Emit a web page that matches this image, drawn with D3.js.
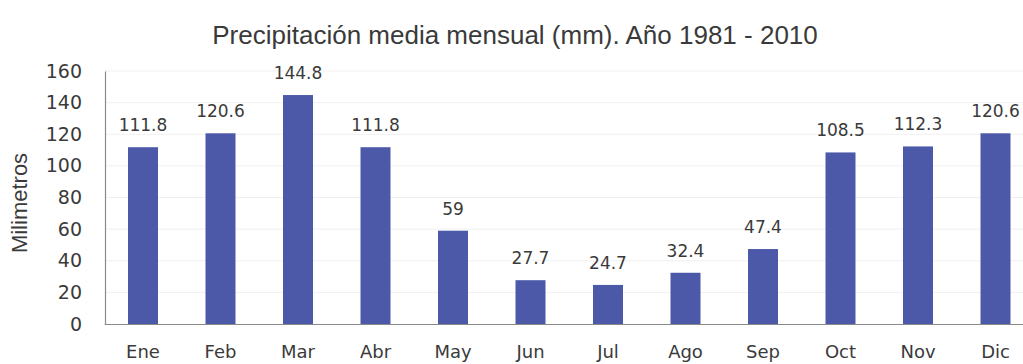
<!DOCTYPE html>
<html>
<head>
<meta charset="utf-8">
<script src="https://cdn.jsdelivr.net/npm/d3@7"></script>
<style>
  html, body { margin: 0; padding: 0; background: #ffffff; }
  svg { display: block; }
</style>
</head>
<body>
<svg id="chart" width="1023" height="364"></svg>
<script>
// Monthly mean precipitation (mm), 1981 - 2010
const months = ["Ene", "Feb", "Mar", "Abr", "May", "Jun", "Jul", "Ago", "Sep", "Oct", "Nov", "Dic"];
const precipitation = [111.8, 120.6, 144.8, 111.8, 59, 27.7, 24.7, 32.4, 47.4, 108.5, 112.3, 120.6];
const yTicks = [0, 20, 40, 60, 80, 100, 120, 140, 160];
const chartTitle = "Precipitación media mensual (mm). Año 1981 - 2010";
const yTitle = "Milimetros";

const svg = d3.select("#chart");
const barColor = "#4c58a8";
const textColor = "#3a3a3a";
const labelFont = "'DejaVu Sans', Verdana, sans-serif";

const x = d3.scaleBand()
  .domain(months)
  .range([104.25, 1034.25])
  .paddingInner(0.613)
  .paddingOuter(0.3065);

const y = d3.scaleLinear()
  .domain([0, 160])
  .range([324, 71]);

// faint horizontal gridlines
svg.append("g")
  .selectAll("line")
  .data(yTicks.filter(d => d > 0))
  .join("line")
  .attr("x1", 105)
  .attr("x2", 1023)
  .attr("y1", d => y(d))
  .attr("y2", d => y(d))
  .attr("stroke", "#f0f0f0")
  .attr("stroke-width", 1);

// bars
svg.append("g")
  .selectAll("rect")
  .data(precipitation)
  .join("rect")
  .attr("x", (d, i) => x(months[i]))
  .attr("y", d => y(d))
  .attr("width", x.bandwidth())
  .attr("height", d => y(0) - y(d))
  .attr("fill", barColor);

// value labels above bars
svg.append("g")
  .selectAll("text")
  .data(precipitation)
  .join("text")
  .attr("x", (d, i) => x(months[i]) + x.bandwidth() / 2)
  .attr("y", d => y(d) - 16)
  .attr("text-anchor", "middle")
  .attr("font-family", labelFont)
  .attr("font-size", 17)
  .attr("fill", textColor)
  .text(d => String(d));

// y axis
const yAxis = svg.append("g")
  .attr("transform", "translate(105,0)")
  .call(d3.axisLeft(y).tickValues(yTicks).tickSize(0).tickPadding(23).tickFormat(d3.format("d")));
yAxis.select(".domain").attr("stroke", "#8a8a8a").attr("stroke-width", 1.2);
yAxis.selectAll("text")
  .attr("font-family", labelFont)
  .attr("font-size", 19)
  .attr("fill", textColor);

// x axis
const xAxis = svg.append("g")
  .attr("transform", `translate(0,${y(0)})`)
  .call(d3.axisBottom(x).tickSize(0).tickPadding(21));
xAxis.select(".domain").attr("stroke", "#8a8a8a").attr("stroke-width", 1.2);
xAxis.selectAll("text")
  .attr("font-family", labelFont)
  .attr("font-size", 18)
  .attr("fill", textColor);

// y axis title
svg.append("text")
  .attr("transform", "translate(27,203) rotate(-90)")
  .attr("text-anchor", "middle")
  .attr("font-family", "'Liberation Sans', Arial, sans-serif")
  .attr("font-size", 22)
  .attr("fill", textColor)
  .text(yTitle);

// chart title
svg.append("text")
  .attr("x", 515)
  .attr("y", 44)
  .attr("text-anchor", "middle")
  .attr("font-family", "'Liberation Sans Narrow', 'Arial Narrow', 'Liberation Sans', sans-serif")
  .attr("font-size", 26)
  .attr("fill", textColor)
  .text(chartTitle);
</script>
</body>
</html>
